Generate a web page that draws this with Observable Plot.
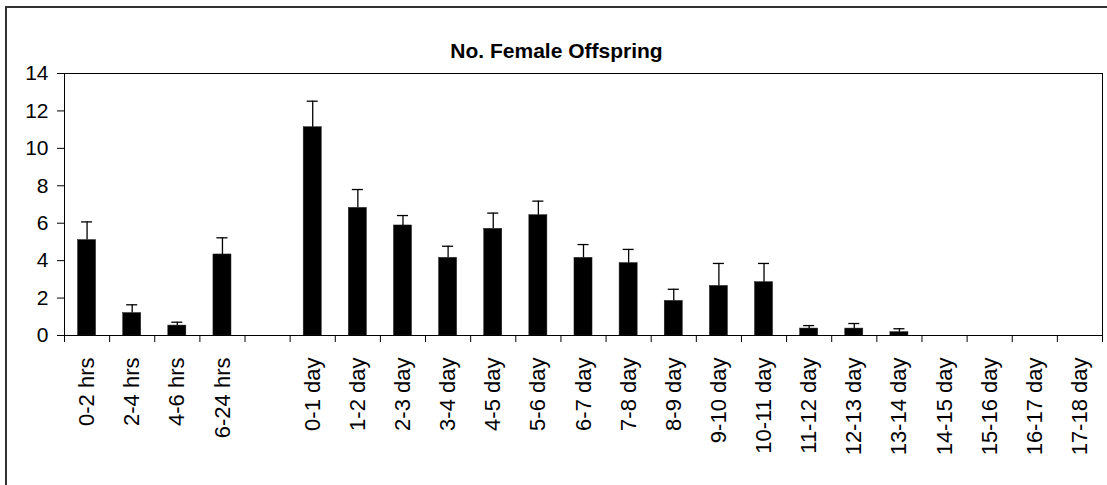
<!DOCTYPE html>
<html>
<head>
<meta charset="utf-8">
<script src="https://cdn.jsdelivr.net/npm/d3@7"></script>
<script src="https://cdn.jsdelivr.net/npm/@observablehq/plot@0.6"></script>
<style>
  html, body { margin: 0; padding: 0; background: #fff; overflow: hidden; width: 1107px; height: 485px; }
  #wrap { position: relative; width: 1107px; height: 485px; }
  #outer { position: absolute; left: 5px; top: 6px; width: 1200px; height: 600px;
           border-left: 2px solid #333; border-top: 2px solid #333; pointer-events: none; }
  svg { font-family: "Liberation Sans", Arial, sans-serif; }
</style>
</head>
<body>
<div id="wrap"><div id="outer"></div></div>
<script>
const title = "No. Female Offspring";
const categories = ["0-2 hrs","2-4 hrs","4-6 hrs","6-24 hrs"," ",
  "0-1 day","1-2 day","2-3 day","3-4 day","4-5 day","5-6 day","6-7 day","7-8 day",
  "8-9 day","9-10 day","10-11 day","11-12 day","12-13 day","13-14 day",
  "14-15 day","15-16 day","16-17 day","17-18 day"];
const means = [5.1,1.2,0.53,4.33,null,11.13,6.82,5.88,4.15,5.70,6.43,4.15,3.87,1.85,2.65,2.85,0.37,0.37,0.18,0,0,0,0];
const errors = [0.97,0.44,0.18,0.89,null,1.39,0.98,0.53,0.62,0.84,0.75,0.71,0.73,0.62,1.20,1.00,0.16,0.27,0.18,0,0,0,0];
const yTicks = [0,2,4,6,8,10,12,14];

const data = categories.map((c, i) => ({cat: c, mean: means[i], err: errors[i]}));
const withErr = data.filter(d => d.err > 0);

const W = 1107, H = 485, mL = 64, mR = 5, mT = 73, mB = 150;
const step = (W - mL - mR) / categories.length;

const chart = Plot.plot({
  width: W, height: H,
  marginLeft: mL, marginRight: mR, marginTop: mT, marginBottom: mB,
  style: {fontFamily: '"Liberation Sans", Arial, sans-serif', color: "black", background: "transparent", overflow: "visible"},
  x: {domain: categories, paddingInner: 0.6, paddingOuter: 0.3, round: false, axis: null, label: null},
  y: {domain: [0, 14], axis: null, label: null},
  marks: [
    Plot.barY(data.filter(d => d.mean > 0), {x: "cat", y: "mean", fill: "black", stroke: "#222", strokeWidth: 0.5}),
    Plot.ruleX(withErr, {x: "cat", y1: "mean", y2: d => d.mean + d.err, stroke: "black", strokeWidth: 1.3}),
    Plot.tickY(withErr, {x: "cat", y: d => d.mean + d.err, stroke: "black", strokeWidth: 1.3, insetLeft: 3.5, insetRight: 3.5}),
    Plot.frame({stroke: "black", strokeWidth: 1}),
    // boundary ticks on the category axis
    Plot.ruleX(categories, {x: d => d, y1: 0, y2: 0, insetBottom: -7, dx: -step / 2, stroke: "black"}),
    Plot.ruleX([categories[categories.length - 1]], {x: d => d, y1: 0, y2: 0, insetBottom: -7, dx: step / 2, stroke: "black"}),
    Plot.axisX({tickSize: 0, tickRotate: -90, tickPadding: 22, fontSize: 22, fill: "black", label: null}),
    Plot.axisY({ticks: yTicks, tickSize: 7, tickPadding: 9, fontSize: 21, stroke: "black", fill: "black", label: null}),
    Plot.text([title], {frameAnchor: "top", dy: -30, dx: -27, fontSize: 21, fontWeight: "bold", fill: "black"})
  ]
});
document.getElementById("wrap").appendChild(chart);
chart.style.position = "absolute";
chart.style.left = "0px";
chart.style.top = "0px";
</script>
</body>
</html>
